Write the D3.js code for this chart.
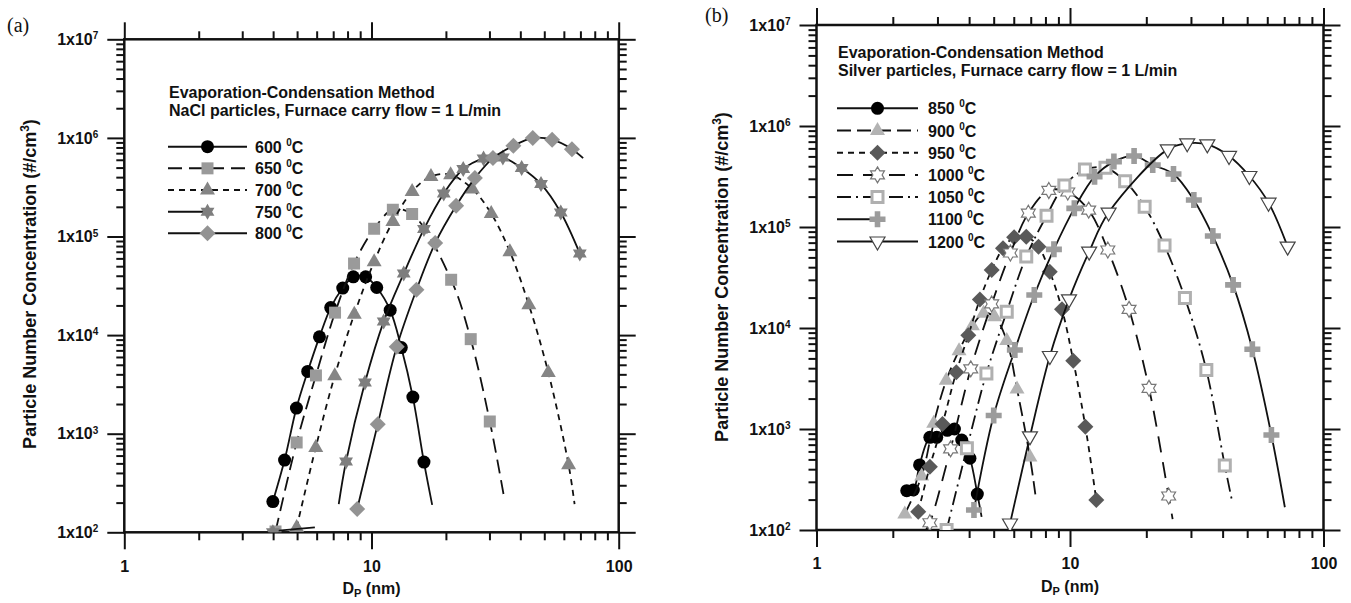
<!DOCTYPE html>
<html>
<head>
<meta charset="utf-8">
<script src="https://cdn.jsdelivr.net/npm/d3@7"></script>
<style>
  body { margin: 0; background: #fff; }
  svg { display: block; }
  text { font-family: "Liberation Sans", Arial, sans-serif; font-weight: bold; fill: #111; }
</style>
</head>
<body>
<svg id="chart" width="1351" height="603"></svg>
<script>
// ---- values: [Dp (nm), concentration (#/cm3)] ----
const naclLabels = ["600", "650", "700", "750", "800"];
const nacl600 = [[3.99,205],[4.45,540],[4.97,1820],[5.52,4280],[6.16,9600],[6.84,19000],[7.65,30000],[8.44,39000],[9.47,39000],[10.5,30400],[11.9,17900],[13.2,7480],[14.7,2350],[16.3,515]];
const nacl650 = [[4.09,102],[4.98,815],[5.96,3900],[7.12,16900],[8.5,53200],[10.25,120000],[12.2,187000],[14.6,169000],[21.0,36400],[25.2,9100],[30.1,1330]];
const nacl700 = [[4.98,112],[5.95,725],[7.1,3870],[8.52,16300],[10.25,55400],[12.2,142000],[14.6,286000],[17.4,406000],[20.9,423000],[25.6,303000],[30.5,171000],[36.3,70000],[43.3,20300],[51.9,4180],[62.7,484]];
const nacl750 = [[3.99,100],[7.89,523],[9.41,3300],[11.2,13700],[13.5,42100],[16.3,119000],[19.6,273000],[23.5,483000],[28.4,618000],[34.0,632000],[40.5,494000],[48.5,340000],[58.3,175000],[69.6,67300]];
const nacl800 = [[8.75,172],[10.6,1250],[12.65,7600],[15.2,28800],[18.1,85700],[22.0,205000],[26.2,391000],[31.0,624000],[37.5,832000],[44.9,995000],[53.8,958000],[64.7,769000]];
// where the fitted lines start / run past the markers
const nacl600Ends = [null, [17.6,190]];
const nacl650Ends = [null, [34.4,225]];
const nacl700Ends = [null, [66.3,193]];
const nacl750Ends = [[7.37,193], null];
const nacl800Ends = [null, [71.8,624000]];
const nacl750Stub = [[4.2,104],[5.9,112]];

const silverLabels = ["850", "900", "950", "1000", "1050", "1100", "1200"];
const ag850 = [[2.27,245],[2.41,249],[2.55,441],[2.80,828],[2.98,828],[3.28,970],[3.50,1000],[3.74,778],[4.03,513],[4.31,227]];
const ag900 = [[2.23,144],[2.60,343],[2.90,1140],[3.25,3030],[3.65,5970],[4.12,10500],[4.56,14000],[5.04,12900],[5.63,7500],[6.18,2490],[6.95,528]];
const ag950 = [[2.52,152],[2.80,424],[3.14,1120],[3.56,3650],[3.97,8460],[4.41,19200],[4.91,37500],[5.44,61500],[6.02,79000],[6.72,80200],[7.51,63900],[8.32,36100],[9.30,15300],[10.3,4750],[11.5,1055],[12.7,198]];
const ag1000 = [[2.80,118],[3.38,636],[4.06,3940],[4.91,17300],[5.82,55300],[6.85,137000],[8.25,230000],[9.8,222000],[11.85,147000],[14.1,59200],[17.1,15300],[20.5,2530],[24.5,217]];
const ag1050 = [[3.26,100],[3.92,644],[4.68,3550],[5.63,14500],[6.72,50900],[8.08,129000],[9.5,258000],[11.45,370000],[13.8,385000],[16.5,283000],[19.7,159000],[23.6,65500],[28.4,19800],[34.5,3840],[40.8,434]];
const ag1100 = [[4.18,158],[5.0,1360],[6.06,6060],[7.23,21200],[8.64,60100],[10.4,153000],[12.5,315000],[14.9,444000],[17.9,505000],[21.2,411000],[25.6,335000],[30.8,185000],[36.6,81500],[44.0,26700],[52.4,6150],[62.3,873]];
const ag1200 = [[5.8,116],[6.95,845],[8.33,5280],[9.91,19200],[11.9,57000],[14.2,139000],[24.3,587000],[29.0,674000],[34.8,658000],[42.4,505000],[51.0,320000],[60.7,174000],[72.2,63900]];
const ag850Ends = [null, [4.48,135]];
const ag900Ends = [null, [7.3,225]];
const ag950Ends = [null, null];
const ag1000Ends = [[2.7,100], [25.4,128]];
const ag1050Ends = [null, [43.5,198]];
const ag1100Ends = [null, [70.4,168]];
const ag1200Ends = [[5.72,100], null];

const xTickLabels = [1, 10, 100];
const yTickExps = [2, 3, 4, 5, 6, 7];

// ---- marker shapes ----
function hexagram(R) {
  const r = R / Math.sqrt(3), pts = [];
  for (let i = 0; i < 12; i++) {
    const a = -Math.PI / 2 + i * Math.PI / 6, rr = i % 2 ? r : R;
    pts.push([rr * Math.cos(a), rr * Math.sin(a)]);
  }
  return "M" + pts.join("L") + "Z";
}
const shapes = {
  circle: d3.symbol(d3.symbolCircle, Math.PI * 6.5 * 6.5)(),
  square: "M-6,-6H6V6H-6Z",
  squareOpen: "M-5.5,-5.5H5.5V5.5H-5.5Z",
  triangle: "M0,-8.5L7.5,4.5L-7.5,4.5Z",
  invTriangle: "M0,8.5L7.5,-4.5L-7.5,-4.5Z",
  diamond: "M0,-8L8,0L0,8L-8,0Z",
  hexagram: hexagram(8),
  plus: "M-2.8,-8H2.8V-2.8H8V2.8H2.8V8H-2.8V2.8H-8V-2.8H-2.8Z"
};

const naclSeries = [
  { label: naclLabels[0], pts: nacl600, ends: nacl600Ends, shape: "circle", fill: "#000", dash: null },
  { label: naclLabels[1], pts: nacl650, ends: nacl650Ends, shape: "square", fill: "#9a9a9a", dash: "14,7" },
  { label: naclLabels[2], pts: nacl700, ends: nacl700Ends, shape: "triangle", fill: "#858585", dash: "6,5" },
  { label: naclLabels[3], pts: nacl750, ends: nacl750Ends, shape: "hexagram", fill: "#7e7e7e", dash: null, half: true, stub: nacl750Stub },
  { label: naclLabels[4], pts: nacl800, ends: nacl800Ends, shape: "diamond", fill: "#939393", dash: null }
];
const silverSeries = [
  { label: silverLabels[0], pts: ag850, ends: ag850Ends, shape: "circle", fill: "#000", dash: null },
  { label: silverLabels[1], pts: ag900, ends: ag900Ends, shape: "triangle", fill: "#b3b3b3", dash: "14,6" },
  { label: silverLabels[2], pts: ag950, ends: ag950Ends, shape: "diamond", fill: "#595959", dash: "6,5" },
  { label: silverLabels[3], pts: ag1000, ends: ag1000Ends, shape: "hexagram", fill: "#fff", stroke: "#777", sw: 1.2, dash: "16,10" },
  { label: silverLabels[4], pts: ag1050, ends: ag1050Ends, shape: "squareOpen", fill: "#fff", stroke: "#b0b0b0", sw: 3, dash: "14,5,2,5" },
  { label: silverLabels[5], pts: ag1100, ends: ag1100Ends, shape: "plus", fill: "#9c9c9c", dash: null, half: true },
  { label: silverLabels[6], pts: ag1200, ends: ag1200Ends, shape: "invTriangle", fill: "#fff", stroke: "#444", sw: 1.2, dash: null }
];

const svg = d3.select("#chart");

function drawPanel(p) {
  const x = d3.scaleLog().domain([1, 100]).range(p.xr);
  const y = d3.scaleLog().domain([100, 1e7]).range(p.yr);
  const [x0, x1] = p.xr, [yb, yt] = p.yr;
  const g = svg.append("g");

  const minorX = [], minorY = [];
  [1, 10].forEach(b => { for (let k = 2; k <= 9; k++) minorX.push(k * b); });
  [1e2, 1e3, 1e4, 1e5, 1e6].forEach(b => { for (let k = 2; k <= 9; k++) minorY.push(k * b); });
  const majorY = yTickExps.map(e => Math.pow(10, e));

  const addAxis = (axis, tx, ty) => {
    const a = g.append("g").attr("transform", `translate(${tx},${ty})`).call(axis);
    a.select(".domain").remove();
    a.selectAll("line").attr("stroke", "#111").attr("stroke-width", 2);
    return a;
  };
  addAxis(d3.axisBottom(x).tickValues(minorX).tickSize(8).tickFormat(""), 0, yb);
  addAxis(d3.axisTop(x).tickValues(minorX).tickSize(8).tickFormat(""), 0, yt);
  addAxis(d3.axisLeft(y).tickValues(minorY).tickSize(8).tickFormat(""), x0, 0);
  addAxis(d3.axisRight(y).tickValues(minorY).tickSize(8).tickFormat(""), x1, 0);
  addAxis(d3.axisTop(x).tickValues(xTickLabels).tickSize(17).tickFormat(""), 0, yt);
  addAxis(d3.axisRight(y).tickValues(majorY).tickSize(17).tickFormat(""), x1, 0);

  const bx = addAxis(d3.axisBottom(x).tickValues(xTickLabels).tickSize(17).tickPadding(11).tickFormat(d3.format("d")), 0, yb);
  bx.selectAll("text").attr("font-size", 16).attr("fill", "#111");

  const ly = addAxis(d3.axisLeft(y).tickValues(majorY).tickSize(17).tickPadding(9), x0, 0);
  ly.selectAll("text").attr("font-size", 16).attr("fill", "#111")
    .text("1x10")
    .append("tspan").attr("dy", "-0.55em").attr("font-size", 10).text(d => Math.round(Math.log10(d)));

  g.append("rect").attr("x", x0).attr("y", yt).attr("width", x1 - x0).attr("height", yb - yt)
    .attr("fill", "none").attr("stroke", "#111").attr("stroke-width", 2.5);

  // axis titles
  const xt = g.append("text").attr("x", (x0 + x1) / 2).attr("y", yb + 62).attr("text-anchor", "middle").attr("font-size", 16);
  xt.append("tspan").text("D");
  xt.append("tspan").attr("font-size", 11).attr("dy", 3).text("P");
  xt.append("tspan").attr("dy", -3).text(" (nm)");

  const yt2 = g.append("text").attr("transform", `translate(${p.ytitleX},${p.ytitleY}) rotate(-90)`)
    .attr("text-anchor", "middle").attr("font-size", 18);
  yt2.append("tspan").text("Particle Number Concentration (#/cm");
  yt2.append("tspan").attr("font-size", 12).attr("dy", -7).text("3");
  yt2.append("tspan").attr("dy", 7).text(")");

  g.append("text").attr("x", p.tagX).attr("y", p.tagY).attr("font-size", 20)
    .style("font-family", '"Liberation Serif", "Times New Roman", serif').style("font-weight", "normal").text(p.tag);

  // header text
  p.header.forEach((t, i) => {
    g.append("text").attr("x", p.headX).attr("y", p.headY + i * 18.5).attr("font-size", 16).text(t);
  });

  // series
  const clipId = "clip" + p.tag.replace(/\W/g, "");
  svg.append("clipPath").attr("id", clipId).append("rect")
    .attr("x", x0).attr("y", yt).attr("width", x1 - x0).attr("height", yb - yt);
  const line = d3.line().x(d => x(d[0])).y(d => y(d[1])).curve(d3.curveCatmullRom.alpha(0.5));
  const plot = g.append("g").attr("clip-path", `url(#${clipId})`);

  const drawMarker = (sel, s) => sel.attr("d", shapes[s.shape])
    .attr("fill", s.fill).attr("stroke", s.stroke || "none").attr("stroke-width", s.sw || 0);

  p.series.forEach(s => {
    const [start, end] = s.ends;
    const body = start ? s.pts.filter(d => d[0] >= start[0]) : s.pts;
    const pts = [start, ...body, end].filter(d => d);
    plot.append("path").datum(pts).attr("d", line).attr("fill", "none")
      .attr("stroke", "#111").attr("stroke-width", 1.8).attr("stroke-dasharray", s.dash);
    if (s.stub) {
      plot.append("path").datum(s.stub).attr("d", d3.line().x(d => x(d[0])).y(d => y(d[1])))
        .attr("fill", "none").attr("stroke", "#111").attr("stroke-width", 1.8);
    }
    plot.selectAll(null).data(s.pts).enter().append("path")
      .attr("transform", d => `translate(${x(d[0])},${y(d[1])})`)
      .call(drawMarker, s);
  });

  // legend
  const lg = g.append("g");
  p.series.forEach((s, i) => {
    const yy = p.legY + i * p.legStep;
    lg.append("line").attr("x1", p.legX0).attr("x2", s.half ? p.legXm : p.legX1)
      .attr("y1", yy).attr("y2", yy).attr("stroke", "#111").attr("stroke-width", 2)
      .attr("stroke-dasharray", s.dash);
    lg.append("path").attr("transform", `translate(${p.legXm},${yy})`).call(drawMarker, s);
    const t = lg.append("text").attr("x", p.legTx).attr("y", yy + 6).attr("font-size", 16);
    t.append("tspan").text(s.label + " ");
    t.append("tspan").attr("font-size", 10).attr("dy", -7).text("0");
    t.append("tspan").attr("dy", 7).text("C");
  });
}

drawPanel({
  tag: "(a)", tagX: 7, tagY: 32,
  xr: [124.3, 618.7], yr: [532.3, 39.3],
  ytitleX: 36, ytitleY: 284,
  header: ["Evaporation-Condensation Method", "NaCl particles, Furnace carry flow = 1 L/min"],
  headX: 169, headY: 97.5,
  series: naclSeries,
  legX0: 168, legX1: 247, legXm: 207.5, legTx: 255, legY: 146.7, legStep: 21.65
});

drawPanel({
  tag: "(b)", tagX: 705, tagY: 22,
  xr: [816.5, 1323.5], yr: [530, 25],
  ytitleX: 728, ytitleY: 277,
  header: ["Evaporation-Condensation Method", "Silver particles, Furnace carry flow = 1 L/min"],
  headX: 838, headY: 57.5,
  series: silverSeries,
  legX0: 837, legX1: 918, legXm: 877.5, legTx: 928, legY: 108.3, legStep: 22.2
});
</script>
</body>
</html>
